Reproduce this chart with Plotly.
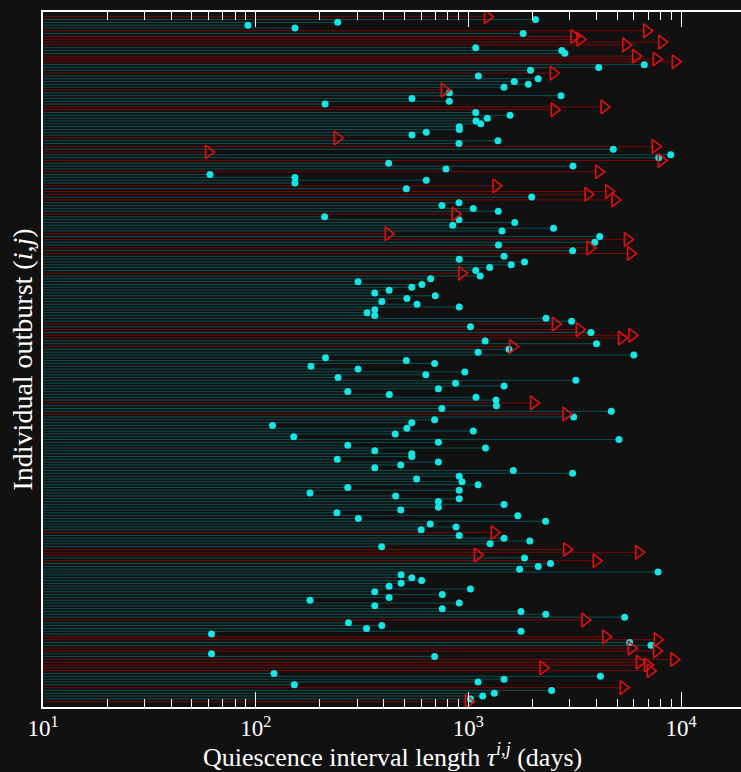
import plotly.graph_objects as go

# Quiescence interval lengths (days), listed top row first
tau = [
    1230, 2070, 243, 92, 153, 6900, 1810, 3140, 3350, 8110,
    5500, 1083, 2750, 2840, 6120, 7650, 9400, 6720, 4100, 1960,
    2510, 1114, 2130, 1645, 1913, 1471, 771, 814, 2727, 543,
    814, 212, 4345, 2536, 1083, 1570, 1228, 1086, 1143, 907,
    907, 634, 543, 242, 1378, 904, 7570, 4803, 60, 8943,
    7853, 8077, 422, 3105, 785, 4102, 61, 153, 634, 153,
    1349, 511, 4571, 3653, 1986, 4892, 904, 752, 1055, 1383,
    868, 211, 904, 1652, 844, 2514, 1440, 420, 4147, 5597,
    3931, 1386, 3733, 3092, 5794, 1472, 906, 1837, 1591, 1260,
    1083, 930, 1137, 665, 303, 605, 542, 424, 363, 699,
    514, 392, 574, 906, 363, 334, 363, 2318, 3058, 2567,
    1023, 3325, 3770, 5881, 5251, 1200, 4005, 1615, 1553, 1111,
    5998, 213, 511, 694, 182, 303, 962, 631, 244, 3201,
    871, 1472, 723, 271, 425, 1086, 1349, 2027, 1355, 751,
    4700, 2879, 3129, 694, 542, 120, 514, 1055, 453, 151,
    5108, 723, 271, 1204, 363, 542, 542, 242, 723, 481,
    363, 1627, 3092, 906, 571, 934, 1111, 271, 906, 180,
    455, 906, 723, 1472, 723, 481, 241, 1708, 304, 2308,
    662, 875, 600, 1325, 906, 1472, 1945, 1266, 391, 2901,
    6324, 1103, 1837, 3992, 2434, 2131, 1742, 7795, 483, 542,
    603, 483, 424, 1023, 363, 754, 424, 180, 906, 363,
    754, 1768, 2313, 5431, 3533, 273, 392, 332, 1768, 62,
    4424, 7736, 5733, 7226, 5840, 7678, 62, 694, 9250, 6372,
    6957, 2246, 7171, 122, 4178, 1472, 1111, 152, 5349, 2463,
    1325, 1168, 1023, 1000,
]

# 1 = interval still open at end of data (right-censored), 0 = completed
censored = [
    1, 0, 0, 0, 0, 1, 0, 1, 1, 1,
    1, 0, 0, 0, 1, 1, 1, 0, 0, 0,
    1, 0, 0, 0, 0, 0, 1, 0, 0, 0,
    0, 0, 1, 1, 0, 0, 0, 0, 0, 0,
    0, 0, 0, 1, 0, 0, 1, 0, 1, 0,
    0, 1, 0, 0, 0, 1, 0, 0, 0, 0,
    1, 0, 1, 1, 0, 1, 0, 0, 0, 0,
    1, 0, 0, 0, 0, 0, 0, 1, 0, 1,
    0, 0, 1, 0, 1, 0, 0, 0, 0, 0,
    0, 1, 0, 0, 0, 0, 0, 0, 0, 0,
    0, 0, 0, 0, 0, 0, 0, 0, 0, 1,
    0, 1, 0, 1, 1, 0, 0, 1, 0, 0,
    0, 0, 0, 0, 0, 0, 0, 0, 0, 0,
    0, 0, 0, 0, 0, 0, 0, 1, 0, 0,
    0, 1, 0, 0, 0, 0, 0, 0, 0, 0,
    0, 0, 0, 0, 0, 0, 0, 0, 0, 0,
    0, 0, 0, 0, 0, 0, 0, 0, 0, 0,
    0, 0, 0, 0, 0, 0, 0, 0, 0, 0,
    0, 0, 0, 1, 0, 0, 0, 0, 0, 1,
    1, 1, 0, 1, 0, 0, 0, 0, 0, 0,
    0, 0, 0, 0, 0, 0, 0, 0, 0, 0,
    0, 0, 0, 0, 1, 0, 0, 0, 0, 0,
    1, 1, 0, 0, 1, 1, 0, 0, 1, 1,
    1, 1, 1, 0, 0, 0, 0, 0, 1, 0,
    0, 0, 0, 1,
]

x_tick_vals = [10, 100, 1000, 10000]
x_tick_text = ["10<sup>1</sup>", "10<sup>2</sup>", "10<sup>3</sup>", "10<sup>4</sup>"]
X_START = 10

n = len(tau)
rows = list(range(1, n + 1))

BG = "#111111"
LINE_TEAL = "rgba(0,190,190,0.36)"
LINE_RED = "rgba(190,0,0,0.6)"
DOT = "#14e6e6"
TRI = "#dd1111"

def segs(sel):
    xs, ys = [], []
    for r, v, c in zip(rows, tau, censored):
        if c == sel:
            xs += [X_START, v, None]
            ys += [r, r, None]
    return xs, ys

fig = go.Figure()
xs, ys = segs(0)
fig.add_trace(go.Scatter(x=xs, y=ys, mode="lines", line=dict(color=LINE_TEAL, width=1),
                         hoverinfo="skip", showlegend=False))
xs, ys = segs(1)
fig.add_trace(go.Scatter(x=xs, y=ys, mode="lines", line=dict(color=LINE_RED, width=1),
                         hoverinfo="skip", showlegend=False))

fig.add_trace(go.Scatter(
    x=[v for v, c in zip(tau, censored) if c == 0],
    y=[r for r, c in zip(rows, censored) if c == 0],
    mode="markers", marker=dict(symbol="circle", size=7, color=DOT, line=dict(width=0)),
    showlegend=False))
fig.add_trace(go.Scatter(
    x=[v for v, c in zip(tau, censored) if c == 1],
    y=[r for r, c in zip(rows, censored) if c == 1],
    mode="markers",
    marker=dict(symbol="triangle-right-open", size=12, color=TRI, line=dict(width=1.6, color=TRI)),
    showlegend=False))

FONT = "Liberation Serif, DejaVu Serif, serif"

fig.update_layout(
    width=741, height=772,
    paper_bgcolor=BG, plot_bgcolor=BG,
    margin=dict(l=43, r=0, t=12, b=65, autoexpand=False),
    font=dict(family=FONT, color="white", size=22),
    xaxis=dict(
        type="log", range=[1, 4.282],
        tickvals=x_tick_vals, ticktext=x_tick_text,
        ticks="inside", ticklen=15, tickwidth=1.2, tickcolor="white",
        minor=dict(ticks="inside", ticklen=8, tickwidth=1, tickcolor="white", dtick="D1", showgrid=False),
        showline=True, linecolor="white", linewidth=1.5, mirror="allticks",
        showgrid=False, zeroline=False, automargin=False,
        tickfont=dict(family=FONT, size=23, color="white"),
    ),
    yaxis=dict(
        range=[n + 1.88, -0.67],
        showticklabels=False, ticks="",
        showline=True, linecolor="white", linewidth=1.5, mirror=False,
        showgrid=False, zeroline=False, automargin=False,
    ),
    annotations=[
        dict(text="Quiescence interval length <i>τ</i><sup><i>i,j</i></sup> (days)",
             xref="paper", yref="paper", x=0.5, y=0, yshift=-48, yanchor="middle",
             showarrow=False, font=dict(family=FONT, size=26, color="white")),
        dict(text="Individual outburst (<i>i,j</i>)",
             xref="paper", yref="paper", x=0, y=0.5, xshift=-21, xanchor="center", yanchor="middle",
             textangle=-90, showarrow=False, font=dict(family=FONT, size=28, color="white")),
    ],
)

fig.write_html("out.html", config={"displayModeBar": False},
               post_script="document.body.style.margin='0';document.body.style.padding='0';")
